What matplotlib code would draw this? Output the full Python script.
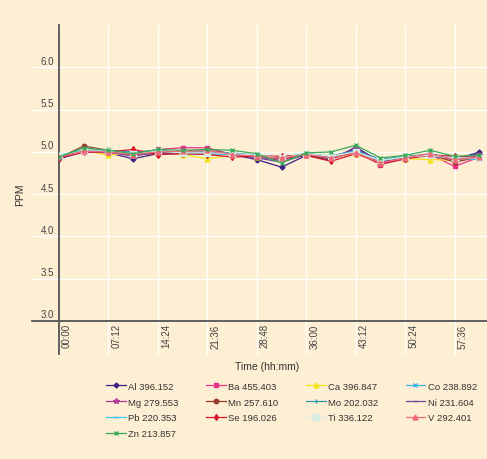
import matplotlib
matplotlib.use("Agg")
import matplotlib.pyplot as plt
import numpy as np

plt.rcParams["font.family"] = ["Liberation Sans", "DejaVu Sans"]
bg = "#fdefd3"

# time in hours (labelled hh:mm), one reading every 3.6
times = np.arange(18) * 3.6
tick_pos = np.arange(9) * 7.2
tick_labels = ["00:00", "07:12", "14:24", "21:36", "28:48", "36:00", "43:12", "50:24", "57:36"]
y_ticks = [3.0, 3.5, 4.0, 4.5, 5.0, 5.5, 6.0]

al = [4.92, 5.00, 4.99, 4.92, 4.98, 4.98, 4.99, 4.97, 4.91, 4.82, 4.96, 4.90, 5.06, 4.88, 4.92, 4.98, 4.91, 5.00]
ba = [4.95, 5.01, 4.99, 4.97, 5.03, 5.05, 5.05, 4.97, 4.95, 4.93, 4.98, 4.93, 5.00, 4.85, 4.92, 4.97, 4.83, 4.94]
ca = [4.96, 5.02, 4.96, 5.00, 5.01, 4.97, 4.92, 4.96, 4.94, 4.93, 4.97, 4.95, 4.98, 4.88, 4.92, 4.91, 4.90, 4.95]
co = [4.95, 5.01, 5.01, 4.99, 5.01, 4.98, 4.98, 4.97, 4.96, 4.92, 4.98, 4.94, 5.01, 4.89, 4.94, 4.96, 4.93, 4.92]
mg = [4.93, 5.00, 5.00, 4.95, 5.00, 4.99, 5.00, 4.97, 4.94, 4.90, 4.97, 4.94, 5.03, 4.88, 4.93, 4.98, 4.90, 4.96]
mn = [4.93, 5.07, 5.02, 4.97, 4.98, 5.01, 5.02, 4.98, 4.95, 4.92, 4.96, 4.92, 5.00, 4.86, 4.92, 4.97, 4.88, 4.94]
mo = [4.95, 5.02, 5.02, 5.00, 5.02, 4.99, 5.00, 4.99, 4.96, 4.93, 4.98, 4.95, 5.02, 4.91, 4.95, 4.97, 4.94, 4.93]
ni = [4.92, 5.01, 5.00, 4.96, 4.99, 4.99, 4.99, 4.97, 4.93, 4.88, 4.97, 4.93, 5.04, 4.89, 4.93, 4.97, 4.92, 4.98]
pb = [4.96, 5.02, 5.01, 4.99, 5.02, 4.98, 4.97, 4.97, 4.96, 4.94, 4.98, 4.95, 5.01, 4.90, 4.94, 4.95, 4.93, 4.91]
se = [4.93, 5.00, 5.00, 5.03, 4.97, 4.98, 4.97, 4.94, 4.95, 4.95, 4.96, 4.89, 4.98, 4.87, 4.92, 4.96, 4.95, 4.93]
ti = [4.95, 5.01, 5.01, 4.98, 5.01, 4.99, 4.99, 4.98, 4.96, 4.93, 4.98, 4.95, 5.00, 4.90, 4.94, 4.96, 4.93, 4.93]
v = [4.94, 5.01, 5.00, 4.97, 5.00, 5.01, 5.02, 4.97, 4.95, 4.93, 4.97, 4.93, 4.99, 4.87, 4.93, 4.98, 4.91, 4.94]
zn = [4.94, 5.05, 5.02, 4.98, 5.03, 5.02, 5.03, 5.02, 4.98, 4.87, 4.99, 5.00, 5.08, 4.93, 4.96, 5.02, 4.95, 4.96]

# label, values, colour, marker, marker size
series = [
    ("Al 396.152", al, "#3b1f86", "D", 2.5),
    ("Ba 455.403", ba, "#e8318a", "s", 3.2),
    ("Ca 396.847", ca, "#f2e21a", "^", 3.5),
    ("Co 238.892", co, "#3bb4e8", "x", 3),
    ("Mg 279.553", mg, "#b03a9a", "*", 4),
    ("Mn 257.610", mn, "#9a3a2a", "o", 3.2),
    ("Mo 202.032", mo, "#2a98a8", "|", 3.5),
    ("Ni 231.604", ni, "#6a4a9e", "_", 3.5),
    ("Pb 220.353", pb, "#40c0ea", "_", 4.5),
    ("Se 196.026", se, "#d8102a", "d", 3),
    ("Ti 336.122", ti, "#d6ece4", "s", 4),
    ("V 292.401", v, "#f06a78", "^", 3.5),
    ("Zn 213.857", zn, "#3aaa58", "x", 3),
]

fig = plt.figure(figsize=(4.87, 4.60), dpi=100, facecolor=bg)
ax = fig.add_axes([0.121, 0.30, 0.879, 0.643], facecolor=bg)

x_min, x_max = 0, 62.3
ax.set_xlim(x_min, x_max)
ax.set_ylim(3.0, 6.5)

# grid lines (drawn by hand so they run past the axes like the original)
ytr = ax.get_yaxis_transform()
xtr = ax.get_xaxis_transform()
for yv in y_ticks[1:]:
    ax.plot([-0.063, 1], [yv, yv], color="white", lw=0.9, transform=ytr, clip_on=False, zorder=0)
for xp in tick_pos[1:]:
    ax.plot([xp, xp], [-0.112, 1], color="white", lw=0.9, transform=xtr, clip_on=False, zorder=0)

# axis lines
ax.plot([-0.063, 1], [3.0, 3.0], color="#555555", lw=1.3, transform=ytr, clip_on=False, zorder=1)
ax.plot([0, 0], [-0.112, 1], color="#555555", lw=1.3, transform=xtr, clip_on=False, zorder=1)

for sp in ax.spines.values():
    sp.set_visible(False)
ax.set_xticks([])
ax.set_yticks([])

handles = {}
for label, vals, col, mk, ms in series:
    (h,) = ax.plot(times, vals, color=col, lw=0.9, marker=mk, ms=ms, mew=1.0,
                   label=label, zorder=3)
    handles[label] = h

# tick labels
for yv in y_ticks:
    ax.text(-0.012, yv + 0.02, f"{yv:.1f}", transform=ytr, ha="right", va="bottom",
            fontsize=7, color="#444444")
for xp, lab in zip(tick_pos, tick_labels):
    ax.text(xp + 0.45, -0.008, lab, transform=xtr, rotation=90, ha="left", va="top",
            fontsize=7, color="#444444")

fig.text(0.549, 0.202, "Time (hh:mm)", ha="center", va="center", fontsize=7.5, color="#333333")
fig.text(0.041, 0.576, "PPM", rotation=90, ha="center", va="center", fontsize=7.5, color="#333333")

# legend fills column by column, so reorder to read row by row
order = ["Al 396.152", "Mg 279.553", "Pb 220.353", "Zn 213.857",
         "Ba 455.403", "Mn 257.610", "Se 196.026",
         "Ca 396.847", "Mo 202.032", "Ti 336.122",
         "Co 238.892", "Ni 231.604", "V 292.401"]
leg = fig.legend([handles[k] for k in order], order, ncol=4, loc="upper left",
                 bbox_to_anchor=(0.218, 0.168), frameon=False, fontsize=6.8,
                 handlelength=2.1, handletextpad=0.25, columnspacing=2.9,
                 labelspacing=0.72, borderpad=0, borderaxespad=0)
for t in leg.get_texts():
    t.set_color("#333333")

fig.savefig("out.png", dpi=100, facecolor=bg)
